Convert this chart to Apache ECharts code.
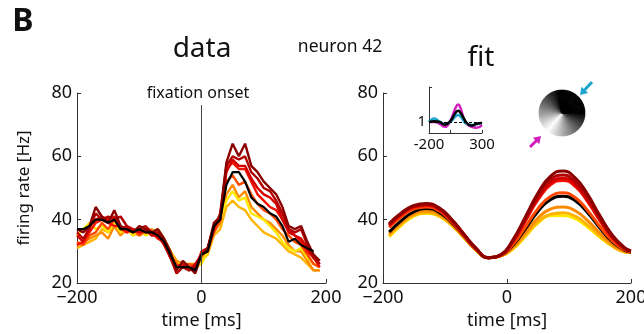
<!DOCTYPE html>
<html><head><meta charset="utf-8">
<script src="https://cdn.jsdelivr.net/npm/echarts@6/dist/echarts.min.js"></script>
<style>html,body{margin:0;padding:0;background:#fff}#c{width:644px;height:334px}</style>
</head><body><div id="c"></div>
<script>
// ---------- DATA ----------
const dataTime = [-200,-190,-180,-170,-160,-150,-140,-130,-120,-110,-100,-90,-80,-70,-60,-50,-40,-30,-20,-10,0,10,20,30,40,50,60,70,80,90,100,110,120,130,140,150,160,170,180,190];
const dataDarkRed1 = [37,36,38,44,41,39,43,38,37,36,38,37,36,37,34,30,24,27,25,23,29,31,39,41,58,64,60,64,57,55,52,50,48,44,38,37,38,33,29,27];
const dataDarkRed2 = [36,34,37,42,40,41,40,41,38,36,37,38,36,36,33,28,23,25,24,25,29,30,37,42,57,60,59,60,55,53,50,49,46,42,37,36,37,32,28,26];
const dataRed3     = [35,33,38,40,41,40,41,37,38,37,36,37,35,35,32,28,25,26,24,26,29,31,38,40,55,59,57,57,53,50,48,47,45,40,36,35,34,31,28,26];
const dataRed4     = [32,33,36,39,40,39,38,38,36,37,36,36,36,34,33,28,25,25,25,24,30,31,38,40,56,58,56,56,52,48,46,44,43,40,37,35,33,30,28,25];
const dataOrangeRed= [33,32,35,36,39,37,40,37,36,37,35,37,35,36,33,29,26,25,26,25,29,31,36,40,52,54,51,52,48,45,43,42,40,37,35,33,32,29,26,25];
const dataOrange   = [32,33,34,35,36,34,38,35,37,36,35,36,37,35,34,30,27,26,26,26,28,30,36,39,48,51,47,49,44,42,40,39,37,35,32,30,30,27,24,24];
const dataYelOrange= [31,32,33,34,37,36,38,36,37,35,36,37,35,36,33,30,27,26,25,26,27,29,35,37,44,46,44,43,40,38,36,35,34,32,30,29,28,26,24,24];
const dataYellow   = [35,37,39,37,38,36,39,36,37,35,37,35,36,37,34,30,26,26,25,25,26,30,37,40,46,49,46,47,42,41,40,38,36,33,31,30,31,28,26,25];
const dataBlack    = [37,37,38,40,40,39,40,37,37,36,37,36,36,35,33,29,25,25,25,24,29,30,38,40,51,55,55,52,47,45,44,42,41,38,33,34,32,31,30,null];

const fitTime = [-190,-170,-150,-130,-110,-90,-70,-50,-30,-10,10,30,50,70,90,110,130,150,170,190,200];
const fitDarkRed1 = [38.8,42.2,44.5,45.1,43.8,40.3,35.6,31.0,28.0,28.9,33.8,41.0,48.4,53.7,55.4,53.2,48.0,41.2,35.1,31.1,30.2];
const fitDarkRed2 = [38.5,42.0,44.3,44.9,43.6,40.1,35.5,30.9,28.0,28.9,33.5,40.5,47.5,52.6,54.1,52.0,46.9,40.5,34.7,30.9,30.1];
const fitRed3     = [38.3,41.8,44.1,44.7,43.4,40.0,35.4,30.9,28.0,28.9,33.3,40.0,46.8,51.6,53.1,51.1,46.2,40.0,34.4,30.8,30.1];
const fitRed4     = [38.0,41.6,43.9,44.5,43.2,39.8,35.3,30.8,28.0,28.8,33.1,39.7,46.3,51.0,52.4,50.5,45.7,39.6,34.2,30.7,30.0];
const fitOrangeRed= [37.5,41.0,43.4,44.0,42.8,39.5,35.0,30.7,28.0,28.7,32.3,37.8,43.5,47.3,48.5,47.0,42.9,37.8,33.3,30.4,29.9];
const fitBlack    = [36.1,39.8,42.5,43.5,42.4,39.2,34.9,30.6,28.0,28.7,32.0,37.2,42.6,46.3,47.4,46.0,42.2,37.3,33.0,30.3,29.8];
const fitOrange   = [35.5,39.2,41.9,42.8,41.8,38.8,34.7,30.5,28.0,28.6,31.4,35.9,40.5,43.3,44.0,42.8,39.7,35.7,32.2,30.0,29.7];
const fitYelOrange= [35.0,38.7,41.4,42.2,41.3,38.5,34.5,30.4,28.0,28.5,31.0,35.1,39.3,41.7,42.2,41.1,38.3,34.8,31.7,29.8,29.6];
const fitYellow   = [34.6,38.3,41.1,42.0,41.1,38.3,34.4,30.3,28.0,28.5,30.8,34.8,38.9,41.2,41.3,40.3,37.7,34.4,31.6,29.8,29.6];

const insetTime    = [-200,-150,-100,-50,0,25,50,75,100,125,150,200,250,300];
const insetCyan    = [1.0,1.08,1.01,0.96,1.0,1.06,1.13,1.16,1.12,1.03,0.97,0.93,0.95,0.98];
const insetBlack   = [1.0,1.02,1.0,0.94,1.02,1.11,1.21,1.26,1.2,1.1,1.0,0.92,0.96,0.98];
const insetMagenta = [1.0,1.0,0.96,0.89,1.02,1.16,1.32,1.40,1.3,1.1,0.97,0.89,0.87,0.93];

const mainYTicks = [20, 40, 60, 80];
const mainXTicks = [-200, 0, 200];
const insetXLabels = [-200, 300];
const insetYLabels = [1];

// ---------- STYLE ----------
const FONT = 'Noto Sans';
const TXT = '#111';
const AX = '#333';
const C = {
  dr1:'#8a0000', dr2:'#b00000', r3:'#d40000', r4:'#f41000',
  or:'#ff4a00', o:'#ff8a00', yo:'#ffb400', y:'#ffe800', k:'#000'
};
const minus = v => v < 0 ? '\u2212' + Math.abs(v) : String(v);
const zip = (xs, ys) => xs.map((x, i) => [x, ys[i]]);

function mainX(gi) {
  return {
    gridIndex: gi, type: 'value', min: -200, max: 200, interval: 200,
    axisLine: {show: true, onZero: false, lineStyle: {color: AX, width: 1}},
    axisTick: {show: true, inside: true, length: 4, lineStyle: {color: AX}},
    axisLabel: {formatter: minus, fontSize: 18, color: TXT, fontFamily: FONT, margin: 6},
    splitLine: {show: false},
    name: 'time [ms]', nameLocation: 'middle', nameGap: 27,
    nameTextStyle: {fontSize: 18, color: TXT, fontFamily: FONT}
  };
}
function mainY(gi, withName) {
  const o = {
    gridIndex: gi, type: 'value', min: 20, max: 80, interval: 20,
    axisLine: {show: true, onZero: false, lineStyle: {color: AX, width: 1}},
    axisTick: {show: true, inside: true, length: 4, lineStyle: {color: AX}},
    axisLabel: {fontSize: 18, color: TXT, fontFamily: FONT, margin: 5},
    splitLine: {show: false}
  };
  if (withName) {
    o.name = 'firing rate [Hz]'; o.nameLocation = 'middle'; o.nameGap = 44; o.nameRotate = 90;
    o.nameTextStyle = {fontSize: 17, color: TXT, fontFamily: FONT};
  }
  return o;
}

function dataLine(vals, color, w) {
  return {type: 'line', xAxisIndex: 0, yAxisIndex: 0, data: zip(dataTime, vals),
    symbol: 'none', lineStyle: {color: color, width: w || 2.4}, itemStyle: {color: color},
    connectNulls: false, silent: true, animation: false, z: 3};
}
function fitLine(vals, color) {
  return {type: 'line', xAxisIndex: 1, yAxisIndex: 1, data: zip(fitTime, vals),
    symbol: 'none', smooth: 0.5, lineStyle: {color: color, width: 3}, itemStyle: {color: color},
    silent: true, animation: false, z: 3};
}
function insetLine(vals, color) {
  return {type: 'line', xAxisIndex: 2, yAxisIndex: 2, data: zip(insetTime, vals),
    symbol: 'none', smooth: 0.5, lineStyle: {color: color, width: 2.5}, itemStyle: {color: color},
    silent: true, animation: false, z: 3};
}

const series = [
  {type: 'line', xAxisIndex: 0, yAxisIndex: 0, data: [], silent: true, animation: false,
   markLine: {silent: true, symbol: 'none', label: {show: false}, animation: false,
     lineStyle: {color: '#444', width: 1, type: 'solid'},
     data: [[{coord: [0, 76.2]}, {coord: [0, 20]}]]}},
  {type: 'line', xAxisIndex: 1, yAxisIndex: 1, data: [], silent: true, animation: false,
   markLine: {silent: true, symbol: 'none', label: {show: false}, animation: false,
     lineStyle: {color: '#444', width: 1, type: 'solid'},
     data: [[{coord: [0, 80.8]}, {coord: [0, 20]}]]}},
  dataLine(dataYelOrange, C.yo), dataLine(dataOrange, C.o), dataLine(dataYellow, C.y),
  dataLine(dataOrangeRed, C.or), dataLine(dataRed4, C.r4), dataLine(dataRed3, C.r3),
  dataLine(dataDarkRed2, C.dr2), dataLine(dataDarkRed1, C.dr1), dataLine(dataBlack, C.k, 2.2),
  fitLine(fitYellow, C.y), fitLine(fitYelOrange, C.yo), fitLine(fitOrange, C.o),
  fitLine(fitBlack, C.k), fitLine(fitOrangeRed, C.or), fitLine(fitRed4, C.r4),
  fitLine(fitRed3, C.r3), fitLine(fitDarkRed2, C.dr2), fitLine(fitDarkRed1, C.dr1),
  {type: 'line', xAxisIndex: 2, yAxisIndex: 2, data: [], silent: true, animation: false,
   markLine: {silent: true, symbol: 'none', label: {show: false}, animation: false,
     lineStyle: {color: '#000', width: 1, type: [3, 2]},
     data: [{yAxis: 1}]}},
  insetLine(insetMagenta, '#d21fbf'), insetLine(insetCyan, '#1ea5cc'), insetLine(insetBlack, '#000')
];

// ---------- decoration: shaded disc + arrows ----------
const graphic = [];
(function disc() {
  const cx = 562, cy = 113, r = 23, n = 120;
  const white = 130 * Math.PI / 180; // lower-left (screen coords)
  for (let i = 0; i < n; i++) {
    const a0 = i / n * 2 * Math.PI, a1 = (i + 1) / n * 2 * Math.PI;
    const mid = (a0 + a1) / 2;
    let d = Math.abs(mid - white) % (2 * Math.PI);
    if (d > Math.PI) d = 2 * Math.PI - d;
    let b = Math.max(0, 1 - d / (Math.PI * 0.72));
    const g = Math.round(b * 255);
    const col = 'rgb(' + g + ',' + g + ',' + g + ')';
    graphic.push({type: 'sector', silent: true, z: 10,
      shape: {cx: cx, cy: cy, r: r, r0: 0, startAngle: a0, endAngle: a1 + 0.01},
      style: {fill: col, stroke: col, lineWidth: 0.6}});
  }
})();
function arrow(tail, tip, color) {
  const dx = tip[0] - tail[0], dy = tip[1] - tail[1];
  const L = Math.hypot(dx, dy), ux = dx / L, uy = dy / L;
  const hl = 7, hw = 4.5;
  const bx = tip[0] - ux * hl, by = tip[1] - uy * hl;
  graphic.push({type: 'line', silent: true, z: 10,
    shape: {x1: tail[0], y1: tail[1], x2: bx + ux, y2: by + uy},
    style: {stroke: color, lineWidth: 3}});
  graphic.push({type: 'polygon', silent: true, z: 10,
    shape: {points: [tip, [bx - uy * hw, by + ux * hw], [bx + uy * hw, by - ux * hw]]},
    style: {fill: color}});
}
arrow([592, 82], [580, 95], '#1ea5cc');
arrow([530, 147], [541, 136], '#d21fbf');

function txt(x, y, s, size, weight) {
  graphic.push({type: 'text', x: x, y: y, silent: true, z: 10,
    style: {text: s, fontSize: size, fontFamily: FONT, fontWeight: weight || 'normal',
      fill: TXT, align: 'center', verticalAlign: 'middle'}});
}
txt(23, 22, 'B', 32, 'bold');
txt(202, 49, 'data', 28);
txt(340, 47, 'neuron 42', 17.5);
txt(481, 58, 'fit', 28);
txt(198, 93, 'fixation onset', 16);

const option = {
  backgroundColor: '#fff',
  animation: false,
  grid: [
    {left: 77, top: 93, width: 249, height: 190, outerBoundsMode: 'none', containLabel: false},
    {left: 383, top: 93, width: 248, height: 190, outerBoundsMode: 'none', containLabel: false},
    {left: 429, top: 87, width: 53, height: 46, outerBoundsMode: 'none', containLabel: false}
  ],
  xAxis: [
    mainX(0), mainX(1),
    {gridIndex: 2, type: 'value', min: -200, max: 300,
     axisLine: {show: true, onZero: false, lineStyle: {color: AX, width: 1}},
     axisTick: {show: true, inside: true, length: 3, customValues: [0, 300], lineStyle: {color: AX}},
     axisLabel: {customValues: insetXLabels, fontSize: 15, color: TXT, fontFamily: FONT, margin: 4,
       formatter: v => String(v)},
     splitLine: {show: false}}
  ],
  yAxis: [
    mainY(0, true), mainY(1, false),
    {gridIndex: 2, type: 'value', min: 0.75, max: 1.8,
     axisLine: {show: true, onZero: false, lineStyle: {color: AX, width: 1}},
     axisTick: {show: true, inside: true, length: 3, customValues: [1.8], lineStyle: {color: AX}},
     axisLabel: {customValues: insetYLabels, fontSize: 15, color: TXT, fontFamily: FONT, margin: 3},
     splitLine: {show: false}}
  ],
  series: series,
  graphic: graphic
};
const chart = echarts.init(document.getElementById('c'), null, {renderer: 'canvas'});
chart.setOption(option);
</script>
</body></html>
